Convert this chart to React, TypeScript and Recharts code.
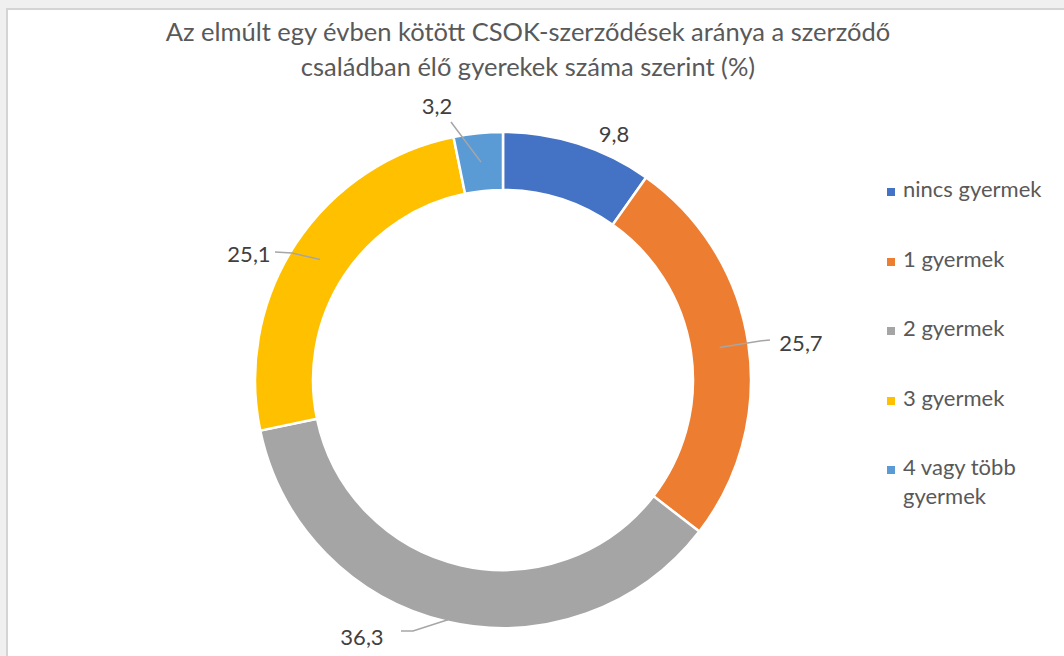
import { PieChart, Pie, Cell } from 'recharts';

// categories and values (percent)
const categories = ['nincs gyermek', '1 gyermek', '2 gyermek', '3 gyermek', '4 vagy több gyermek'];
const shares = [9.8, 25.7, 36.3, 25.1, 3.2];
const colors = ['#4472C4', '#ED7D31', '#A5A5A5', '#FFC000', '#5B9BD5'];

const titleLines = [
  'Az elmúlt egy évben kötött CSOK-szerződések aránya a szerződő',
  'családban élő gyerekek száma szerint (%)',
];

const data = categories.map((name, i) => ({ name, value: shares[i] }));

// where Excel put each data label (text centre) and the leader line bend
const labelLayout = [
  { x: 614, y: 133, line: null as null | number[][] },
  { x: 801, y: 342, line: [[770, 340], [760, 341]] },
  { x: 362, y: 636, line: [[401, 631], [413, 631]] },
  { x: 249, y: 253, line: [[275, 252], [292, 253]] },
  { x: 437, y: 105, line: [[451, 122]] },
];
const lineStartR = [219, 219, 246, 219, 219];

const FONT = 'Lato, "Open Sans", sans-serif';
const RAD = Math.PI / 180;

const renderLabel = (props: any) => {
  const { cx, cy, midAngle, index, value } = props;
  const lay = labelLayout[index];
  const r = lineStartR[index];
  const sx = cx + r * Math.cos(-midAngle * RAD);
  const sy = cy + r * Math.sin(-midAngle * RAD);
  let pts = '';
  if (lay.line) {
    pts = [...lay.line, [sx, sy]].map((p) => p.join(',')).join(' ');
  }
  return (
    <g key={`lbl-${index}`}>
      {lay.line && <polyline points={pts} fill="none" stroke="#A6A6A6" strokeWidth={1.5} />}
      <text
        x={lay.x}
        y={lay.y}
        textAnchor="middle"
        dominantBaseline="central"
        fill="#404040"
        fontSize={22}
        fontFamily={FONT}
      >
        {String(value).replace('.', ',')}
      </text>
    </g>
  );
};

export default function App() {
  return (
    <div
      style={{
        position: 'fixed',
        left: 0,
        top: 0,
        width: 1064,
        height: 656,
        background: '#F0F0F0',
        overflow: 'hidden',
      }}
    >
      <div
        style={{
          position: 'absolute',
          left: 6,
          top: 8,
          width: 1100,
          height: 700,
          background: '#FFFFFF',
          borderLeft: '2px solid #D4D4D4',
          borderTop: '2px solid #D4D4D4',
        }}
      />
      <div
        style={{
          position: 'absolute',
          left: 0,
          top: 14,
          width: 1056,
          textAlign: 'center',
          fontFamily: FONT,
          fontSize: 25.5,
          lineHeight: '35px',
          color: '#595959',
        }}
      >
        {titleLines.map((t) => (
          <div key={t}>{t}</div>
        ))}
      </div>
      <div style={{ position: 'absolute', left: 0, top: 0 }}>
        <PieChart width={1064} height={656} margin={{ top: 0, right: 0, bottom: 0, left: 0 }}>
          <Pie
            data={data}
            dataKey="value"
            nameKey="name"
            cx={503}
            cy={380}
            innerRadius={190}
            outerRadius={248}
            startAngle={90}
            endAngle={-270}
            stroke="#FFFFFF"
            strokeWidth={2.5}
            label={renderLabel}
            labelLine={false}
            isAnimationActive={false}
          >
            {data.map((d, i) => (
              <Cell key={d.name} fill={colors[i]} />
            ))}
          </Pie>
        </PieChart>
      </div>
      {/* legend */}
      <div
        style={{
          position: 'absolute',
          left: 887,
          top: 174,
          width: 175,
          fontFamily: FONT,
          fontSize: 22,
          color: '#595959',
        }}
      >
        {categories.map((c, i) => (
          <div key={c} style={{ display: 'flex', alignItems: 'flex-start', height: 69.5 }}>
            <span
              style={{
                width: 8,
                height: 8,
                background: colors[i],
                marginTop: 14,
                marginRight: 8,
                flex: 'none',
              }}
            />
            <span style={{ lineHeight: '29px', marginTop: 0, width: 150 }}>{c}</span>
          </div>
        ))}
      </div>
    </div>
  );
}
